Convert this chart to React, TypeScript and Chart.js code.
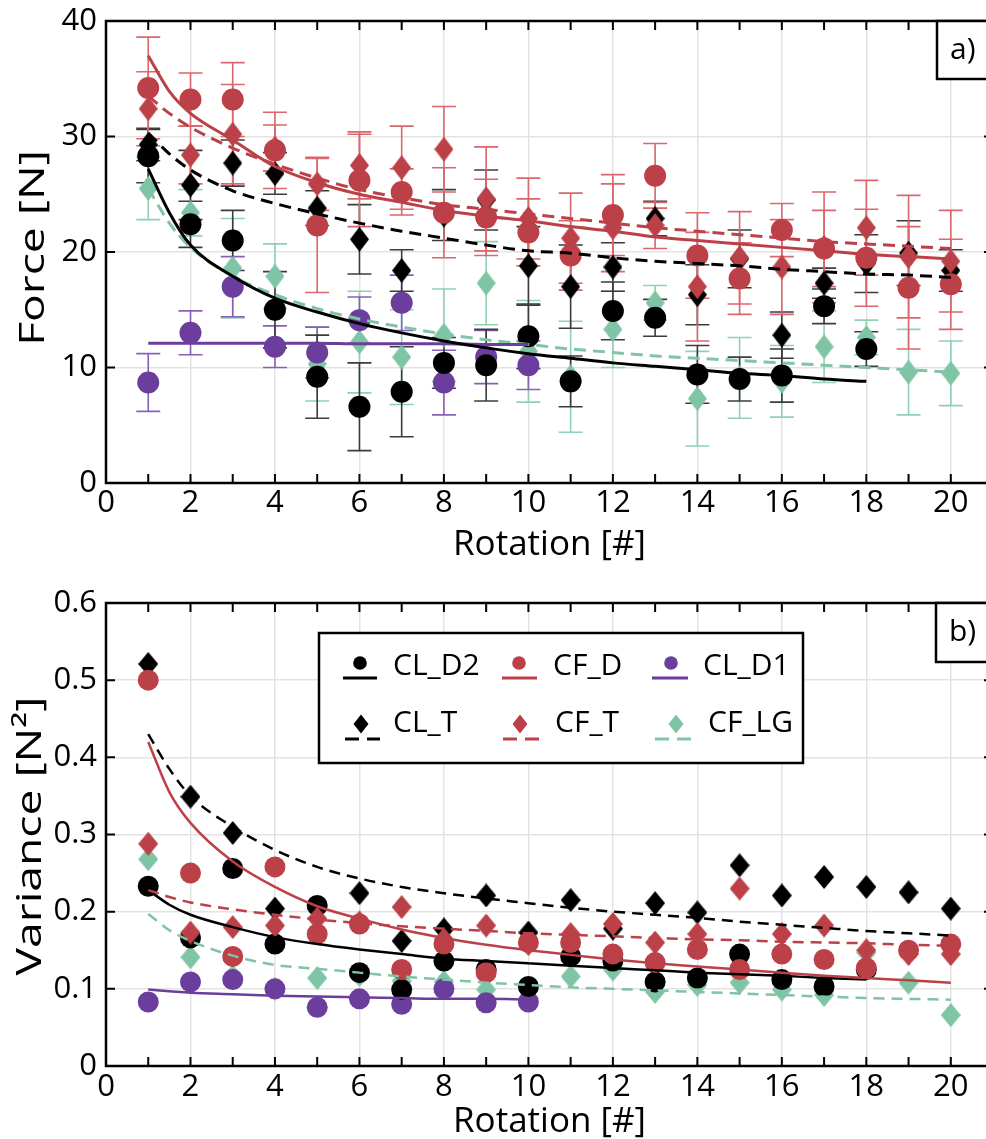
import React, { useEffect, useRef } from "react";
import { Chart, registerables } from "chart.js";

Chart.register(...registerables);

const FONT = '"Open Sans", "Noto Sans", "DejaVu Sans", sans-serif';

// ---------- categories ----------
const rot20 = [1, 2, 3, 4, 5, 6, 7, 8, 9, 10, 11, 12, 13, 14, 15, 16, 17, 18, 19, 20];
const rot18 = [1, 2, 3, 4, 5, 6, 7, 8, 9, 10, 11, 12, 13, 14, 15, 16, 17, 18];
const rot10 = [1, 2, 3, 4, 5, 6, 7, 8, 9, 10];
const fitX20 = [1, 1.5, 2, 3, 4, 5, 6, 7, 8, 9, 10, 11, 12, 13, 14, 15, 16, 17, 18, 19, 20];
const fitX18 = [1, 1.5, 2, 3, 4, 5, 6, 7, 8, 9, 10, 11, 12, 13, 14, 15, 16, 17, 18];
const fitX10 = [1, 1.5, 2, 3, 4, 5, 6, 7, 8, 9, 10];

// ---------- panel a) Force [N] ----------
const forceCLD2 = [28.3, 22.4, 21.0, 15.0, 9.2, 6.6, 7.9, 10.4, 10.2, 12.7, 8.8, 14.9, 14.3, 9.4, 9.0, 9.3, 15.3, 11.6];
const forceCLD2Err = [2.3, 2.0, 2.6, 3.3, 3.6, 3.8, 3.9, 2.2, 3.1, 2.8, 2.2, 2.5, 1.6, 2.5, 1.9, 2.3, 1.5, 1.5];
const forceCLT = [29.3, 25.8, 27.7, 26.8, 23.8, 21.1, 18.4, 23.2, 24.5, 18.8, 17.0, 18.7, 22.9, 16.3, 19.4, 12.8, 17.3, 19.0, 19.9, 18.4];
const forceCLTErr = [1.4, 3.0, 2.0, 1.8, 1.5, 3.0, 1.8, 2.2, 2.6, 3.4, 3.6, 2.1, 1.5, 2.6, 2.5, 2.0, 1.3, 2.5, 2.8, 1.8];
const forceCFD = [34.2, 33.2, 33.2, 28.8, 22.3, 26.2, 25.2, 23.4, 23.0, 21.7, 19.7, 23.2, 26.6, 19.7, 17.7, 21.9, 20.3, 19.5, 16.9, 17.2];
const forceCFDErr = [4.4, 2.3, 3.2, 3.3, 5.8, 4.0, 2.0, 3.9, 3.3, 2.9, 3.0, 3.5, 2.8, 3.7, 3.1, 2.3, 3.3, 4.2, 5.3, 3.9];
const forceCFT = [32.4, 28.4, 30.2, 29.0, 25.9, 27.5, 27.3, 28.9, 24.6, 22.9, 21.2, 22.1, 22.3, 17.0, 19.5, 18.7, 20.4, 22.1, 19.6, 19.2];
const forceCFTErr = [3.2, 2.5, 4.3, 2.0, 2.3, 2.9, 3.6, 3.7, 4.5, 3.5, 3.9, 3.8, 2.0, 4.7, 4.0, 4.1, 4.8, 4.1, 5.3, 4.4];
const forceCLD1 = [8.7, 13.0, 17.0, 11.8, 11.3, 14.1, 15.6, 8.7, 10.9, 10.2];
const forceCLD1Err = [2.5, 1.9, 2.6, 1.8, 2.2, 2.0, 2.4, 2.8, 2.3, 2.1];
const forceCFLG = [25.5, 23.4, 18.6, 17.9, 10.3, 12.2, 10.9, 12.8, 17.3, 11.4, 9.2, 13.3, 15.6, 7.3, 9.1, 8.8, 11.8, 12.6, 9.6, 9.5];
const forceCFLGErr = [2.7, 2.0, 4.3, 2.8, 3.2, 4.4, 4.1, 4.0, 3.6, 4.4, 4.8, 3.3, 1.5, 4.1, 3.5, 3.1, 3.1, 1.5, 3.7, 2.8];

const fitForceCLD2 = [27.2, 23.4, 20.6, 17.9, 16.0, 14.8, 13.8, 13.0, 12.3, 11.7, 11.2, 10.8, 10.4, 10.1, 9.8, 9.5, 9.3, 9.0, 8.8];
const fitForceCLT = [30.3, 28.5, 27.1, 25.3, 24.2, 23.3, 22.5, 21.8, 21.2, 20.6, 20.1, 19.9, 19.5, 19.2, 19.0, 18.8, 18.5, 18.3, 18.1, 18.0, 17.8];
const fitForceCFD = [37.0, 33.9, 32.0, 29.7, 27.4, 26.0, 25.0, 24.3, 23.6, 23.1, 22.7, 22.2, 21.8, 21.3, 21.0, 20.7, 20.4, 20.1, 19.8, 19.6, 19.4];
const fitForceCFT = [33.5, 32.0, 30.8, 29.0, 27.6, 26.4, 25.4, 24.7, 24.1, 23.7, 23.3, 22.9, 22.5, 22.1, 21.8, 21.5, 21.2, 20.9, 20.7, 20.5, 20.3];
const fitForceCLD1 = [12.1, 12.1, 12.1, 12.1, 12.1, 12.1, 12.05, 12.05, 12.05, 12.0, 12.0];
const fitForceCFLG = [25.5, 22.5, 20.4, 17.9, 16.3, 15.1, 14.2, 13.5, 12.9, 12.4, 12.0, 11.6, 11.3, 11.0, 10.8, 10.6, 10.4, 10.2, 10.0, 9.8, 9.6];

// ---------- panel b) Variance [N²] ----------
const varCLD2 = [0.233, 0.166, 0.256, 0.158, 0.208, 0.121, 0.099, 0.136, 0.125, 0.103, 0.142, 0.136, 0.109, 0.114, 0.145, 0.112, 0.103, 0.125];
const varCLT = [0.521, 0.349, 0.302, 0.204, 0.205, 0.224, 0.162, 0.177, 0.221, 0.173, 0.215, 0.178, 0.211, 0.199, 0.26, 0.221, 0.245, 0.232, 0.225, 0.204];
const varCFD = [0.5, 0.25, 0.142, 0.258, 0.171, 0.184, 0.125, 0.158, 0.121, 0.16, 0.16, 0.145, 0.134, 0.151, 0.125, 0.145, 0.138, 0.127, 0.15, 0.158];
const varCFT = [0.288, 0.173, 0.18, 0.182, 0.191, 0.186, 0.206, 0.164, 0.182, 0.158, 0.171, 0.184, 0.16, 0.171, 0.23, 0.171, 0.182, 0.15, 0.145, 0.145];
const varCLD1 = [0.083, 0.109, 0.112, 0.1, 0.076, 0.087, 0.08, 0.1, 0.082, 0.083];
const varCFLG = [0.268, 0.141, 0.116, 0.1, 0.114, 0.118, 0.11, 0.109, 0.099, 0.087, 0.116, 0.125, 0.096, 0.105, 0.108, 0.099, 0.092, 0.147, 0.108, 0.066];

const fitVarCLD2 = [0.228, 0.209, 0.196, 0.18, 0.167, 0.158, 0.151, 0.145, 0.139, 0.136, 0.133, 0.13, 0.127, 0.124, 0.121, 0.119, 0.117, 0.114, 0.112];
const fitVarCLT = [0.43, 0.385, 0.35, 0.31, 0.28, 0.258, 0.243, 0.232, 0.224, 0.217, 0.211, 0.205, 0.2, 0.196, 0.192, 0.187, 0.183, 0.179, 0.175, 0.172, 0.169];
const fitVarCFD = [0.42, 0.355, 0.315, 0.265, 0.232, 0.207, 0.191, 0.177, 0.166, 0.157, 0.15, 0.144, 0.138, 0.133, 0.129, 0.125, 0.121, 0.117, 0.114, 0.111, 0.108];
const fitVarCFT = [0.228, 0.219, 0.212, 0.203, 0.196, 0.19, 0.185, 0.181, 0.178, 0.175, 0.172, 0.17, 0.168, 0.166, 0.164, 0.163, 0.161, 0.16, 0.159, 0.157, 0.156];
const fitVarCLD1 = [0.099, 0.097, 0.095, 0.093, 0.091, 0.09, 0.089, 0.088, 0.087, 0.087, 0.086];
const fitVarCFLG = [0.197, 0.176, 0.162, 0.143, 0.131, 0.126, 0.121, 0.116, 0.112, 0.108, 0.105, 0.102, 0.1, 0.098, 0.096, 0.094, 0.092, 0.09, 0.088, 0.087, 0.086];

// ---------- ticks / labels ----------
const forceTicks = [0, 10, 20, 30, 40];
const varTicks = [0, 0.1, 0.2, 0.3, 0.4, 0.5, 0.6];
const rotationTicks = [0, 2, 4, 6, 8, 10, 12, 14, 16, 18, 20];
const legendNames = ["CL_D2", "CF_D", "CL_D1", "CL_T", "CF_T", "CF_LG"];

// ---------- styles ----------
const RED = "#bc4048";
const BLACK = "#000000";
const PURPLE = "#6b3d9c";
const TEAL = "#7fc4a4";
const RED_ERR = "#d9676c";
const BLACK_ERR = "#3c3c3c";
const PURPLE_ERR = "#8a5fba";
const TEAL_ERR = "#8fd1b4";

function makeDiamond(color: string, w: number, h: number) {
  const c = document.createElement("canvas");
  c.width = w;
  c.height = h;
  const ctx = c.getContext("2d")!;
  ctx.fillStyle = color;
  ctx.beginPath();
  ctx.moveTo(w / 2, 0);
  ctx.lineTo(w, h / 2);
  ctx.lineTo(w / 2, h);
  ctx.lineTo(0, h / 2);
  ctx.closePath();
  ctx.fill();
  return c;
}

type MarkerSpec = { xs: number[]; ys: number[]; err?: number[]; color: string; errColor?: string; shape: "circle" | "diamond" };
type LineSpec = { xs: number[]; ys: number[]; color: string; dashed: boolean };

type PanelSpec = {
  width: number;
  height: number;
  areaTop: number;
  areaBottom: number;
  yMax: number;
  yTicks: number[];
  yFmt: (v: number) => string;
  yTitle: string;
  yTitleX: number;
  yTitleY: number;
  xTickPad: number;
  xTitlePad: number;
  tag: string;
  tagBox: { x: number; y: number; w: number; h: number };
  markers: MarkerSpec[];
  lines: LineSpec[];
  circleR: number;
  diamondW: number;
  diamondH: number;
  lineW: number;
  dash: number[];
  legend: boolean;
  canvasTop: number;
};

function pts(xs: number[], ys: number[]) {
  return xs.map((x, i) => ({ x, y: ys[i] }));
}

function buildConfig(spec: PanelSpec): any {
  const X_LEFT = 106;
  const datasets: any[] = [];
  spec.markers.forEach((m, i) => {
    const base: any = {
      type: "scatter",
      data: pts(m.xs, m.ys),
      backgroundColor: m.color,
      borderColor: m.color,
      pointBorderWidth: 0,
      order: 100 - i,
      showLine: false,
    };
    if (m.shape === "circle") {
      base.pointStyle = "circle";
      base.pointRadius = spec.circleR;
    } else {
      base.pointStyle = makeDiamond(m.color, spec.diamondW, spec.diamondH);
      base.pointRadius = spec.diamondH / 2;
    }
    datasets.push(base);
  });
  spec.lines.forEach((l, i) => {
    datasets.push({
      type: "line",
      data: pts(l.xs, l.ys),
      borderColor: l.color,
      borderWidth: spec.lineW,
      borderDash: l.dashed ? spec.dash : [],
      pointRadius: 0,
      fill: false,
      cubicInterpolationMode: "monotone",
      order: 20 - i,
    });
  });

  const tickFont = { family: FONT, size: 31 };
  const deco = {
    id: "deco",
    beforeDatasetsDraw(chart: any) {
      const { ctx, scales } = chart;
      const xs = scales.x, ys = scales.y;
      ctx.save();
      ctx.lineWidth = 1.6;
      spec.markers.forEach((m) => {
        if (!m.err) return;
        ctx.strokeStyle = m.errColor;
        m.xs.forEach((xv, i) => {
          const px = xs.getPixelForValue(xv);
          const p1 = ys.getPixelForValue(m.ys[i] + m.err![i]);
          const p2 = ys.getPixelForValue(m.ys[i] - m.err![i]);
          ctx.beginPath();
          ctx.moveTo(px, p1);
          ctx.lineTo(px, p2);
          ctx.moveTo(px - 12, p1);
          ctx.lineTo(px + 12, p1);
          ctx.moveTo(px - 12, p2);
          ctx.lineTo(px + 12, p2);
          ctx.stroke();
        });
      });
      ctx.restore();
    },
    afterDraw(chart: any) {
      const { ctx, chartArea: a, scales } = chart;
      const xs = scales.x, ys = scales.y;
      ctx.save();
      // frame
      ctx.strokeStyle = "#000";
      ctx.lineWidth = 2.5;
      ctx.strokeRect(a.left, a.top, a.right - a.left, a.bottom - a.top);
      // inward ticks
      ctx.lineWidth = 2;
      ctx.beginPath();
      for (let v = 1; v <= 21; v++) {
        const px = xs.getPixelForValue(v);
        if (px > a.right + 0.5) break;
        ctx.moveTo(px, a.top);
        ctx.lineTo(px, a.top + 9);
        ctx.moveTo(px, a.bottom);
        ctx.lineTo(px, a.bottom - 9);
      }
      spec.yTicks.forEach((v) => {
        const py = ys.getPixelForValue(v);
        ctx.moveTo(a.left, py);
        ctx.lineTo(a.left + 9, py);
        ctx.moveTo(a.right, py);
        ctx.lineTo(a.right - 9, py);
      });
      ctx.stroke();
      // tag box
      const t = spec.tagBox;
      ctx.fillStyle = "#fff";
      ctx.fillRect(t.x, t.y, t.w, t.h);
      ctx.lineWidth = 2.5;
      ctx.strokeRect(t.x, t.y, t.w, t.h);
      ctx.fillStyle = "#000";
      ctx.font = `30px ${FONT}`;
      ctx.textAlign = "left";
      ctx.textBaseline = "middle";
      ctx.fillText(spec.tag, t.x + 13, t.y + t.h / 2);
      // y title (stretched along its length as in the original)
      ctx.save();
      ctx.translate(spec.yTitleX, spec.yTitleY);
      ctx.rotate(-Math.PI / 2);
      ctx.scale(1.32, 1);
      ctx.font = `35px ${FONT}`;
      ctx.textAlign = "center";
      ctx.textBaseline = "middle";
      ctx.fillText(spec.yTitle, 0, 0);
      ctx.restore();
      // legend
      if (spec.legend) {
        const off = spec.canvasTop;
        ctx.fillStyle = "#fff";
        ctx.fillRect(319, 633 - off, 484, 130);
        ctx.lineWidth = 2.5;
        ctx.strokeStyle = "#000";
        ctx.strokeRect(319, 633 - off, 484, 130);
        const cols = [
          { mx: 360, lx0: 343, lx1: 377, tx: 393 },
          { mx: 519, lx0: 502, lx1: 537, tx: 553 },
          { mx: 671, lx0: 652, lx1: 688, tx: 703 },
        ];
        const cols2 = [
          { mx: 361, lx0: 345, lx1: 380, tx: 393 },
          { mx: 520, lx0: 503, lx1: 539, tx: 555 },
          { mx: 676, lx0: 655, lx1: 696, tx: 708 },
        ];
        const colors = [BLACK, RED, PURPLE, BLACK, RED, TEAL];
        legendNames.forEach((name, i) => {
          const row = i < 3 ? 0 : 1;
          const c = row === 0 ? cols[i] : cols2[i - 3];
          const my = (row === 0 ? 663 : 724) - off;
          const ly = (row === 0 ? 678 : 739) - off;
          const ty = (row === 0 ? 666 : 723) - off;
          ctx.strokeStyle = colors[i];
          ctx.lineWidth = 3;
          ctx.setLineDash(row === 0 ? [] : [14, 8]);
          ctx.beginPath();
          ctx.moveTo(c.lx0, ly);
          ctx.lineTo(c.lx1, ly);
          ctx.stroke();
          ctx.setLineDash([]);
          ctx.fillStyle = colors[i];
          ctx.beginPath();
          if (row === 0) {
            ctx.arc(c.mx, my, 6.8, 0, Math.PI * 2);
          } else {
            ctx.moveTo(c.mx, my - 9.5);
            ctx.lineTo(c.mx + 7.5, my);
            ctx.lineTo(c.mx, my + 9.5);
            ctx.lineTo(c.mx - 7.5, my);
            ctx.closePath();
          }
          ctx.fill();
          ctx.fillStyle = "#000";
          ctx.font = `30px ${FONT}`;
          ctx.textAlign = "left";
          ctx.textBaseline = "middle";
          ctx.fillText(name, c.tx, ty);
        });
      }
      ctx.restore();
    },
  };

  const xMax = (spec.width - X_LEFT) / 42.24;

  return {
    type: "scatter",
    data: { datasets },
    options: {
      animation: false,
      responsive: false,
      devicePixelRatio: 1,
      events: [],
      layout: { autoPadding: false, padding: { top: spec.areaTop, left: 0, right: 0, bottom: 0 } },
      plugins: { legend: { display: false }, tooltip: { enabled: false } },
      scales: {
        x: {
          type: "linear",
          min: 0,
          max: xMax,
          afterFit: (s: any) => {
            s.height = spec.height - spec.areaBottom;
            s.paddingLeft = 0;
            s.paddingRight = 0;
          },
          afterBuildTicks: (s: any) => {
            s.ticks = rotationTicks.map((v) => ({ value: v }));
          },
          ticks: {
            font: tickFont,
            color: "#000",
            padding: spec.xTickPad,
            maxRotation: 0,
            autoSkip: false,
            callback: (v: any) => String(v),
          },
          grid: { color: "#e3e3e3", lineWidth: 1.5, drawTicks: false },
          border: { display: false },
          title: {
            display: true,
            text: "Rotation [#]",
            color: "#000",
            font: { family: FONT, size: 35 },
            padding: { top: 0, bottom: spec.xTitlePad },
          },
        },
        y: {
          type: "linear",
          min: 0,
          max: spec.yMax,
          afterFit: (s: any) => {
            s.width = X_LEFT;
            s.paddingTop = 0;
            s.paddingBottom = 0;
          },
          afterBuildTicks: (s: any) => {
            s.ticks = spec.yTicks.map((v) => ({ value: v }));
          },
          ticks: {
            font: tickFont,
            color: "#000",
            padding: 9,
            callback: (v: any) => spec.yFmt(Number(v)),
          },
          grid: { color: "#e3e3e3", lineWidth: 1.5, drawTicks: false },
          border: { display: false },
        },
      },
    },
    plugins: [deco],
  };
}

const specA: PanelSpec = {
  width: 993,
  height: 575,
  areaTop: 21,
  areaBottom: 483,
  yMax: 40,
  yTicks: forceTicks,
  yFmt: (v) => String(v),
  yTitle: "Force [N]",
  yTitleX: 34,
  yTitleY: 248,
  xTickPad: 2,
  xTitlePad: 9,
  tag: "a)",
  tagBox: { x: 937, y: 21, w: 60, h: 58 },
  markers: [
    { xs: rot20, ys: forceCFLG, err: forceCFLGErr, color: TEAL, errColor: TEAL_ERR, shape: "diamond" },
    { xs: rot10, ys: forceCLD1, err: forceCLD1Err, color: PURPLE, errColor: PURPLE_ERR, shape: "circle" },
    { xs: rot18, ys: forceCLD2, err: forceCLD2Err, color: BLACK, errColor: BLACK_ERR, shape: "circle" },
    { xs: rot20, ys: forceCLT, err: forceCLTErr, color: BLACK, errColor: BLACK_ERR, shape: "diamond" },
    { xs: rot20, ys: forceCFD, err: forceCFDErr, color: RED, errColor: RED_ERR, shape: "circle" },
    { xs: rot20, ys: forceCFT, err: forceCFTErr, color: RED, errColor: RED_ERR, shape: "diamond" },
  ],
  lines: [
    { xs: fitX20, ys: fitForceCFLG, color: TEAL, dashed: true },
    { xs: fitX10, ys: fitForceCLD1, color: PURPLE, dashed: false },
    { xs: fitX18, ys: fitForceCLD2, color: BLACK, dashed: false },
    { xs: fitX20, ys: fitForceCLT, color: BLACK, dashed: true },
    { xs: fitX20, ys: fitForceCFD, color: RED, dashed: false },
    { xs: fitX20, ys: fitForceCFT, color: RED, dashed: true },
  ],
  circleR: 11,
  diamondW: 19,
  diamondH: 25,
  lineW: 3,
  dash: [12, 7],
  legend: false,
  canvasTop: 0,
};

const specB: PanelSpec = {
  width: 993,
  height: 564,
  areaTop: 28,
  areaBottom: 491,
  yMax: 0.6,
  yTicks: varTicks,
  yFmt: (v) => (v === 0 ? "0" : v.toFixed(1)),
  yTitle: "Variance [N²]",
  yTitleX: 31,
  yTitleY: 261,
  xTickPad: 3,
  xTitlePad: -4,
  tag: "b)",
  tagBox: { x: 936, y: 28, w: 60, h: 59 },
  markers: [
    { xs: rot20, ys: varCFLG, color: TEAL, shape: "diamond" },
    { xs: rot10, ys: varCLD1, color: PURPLE, shape: "circle" },
    { xs: rot18, ys: varCLD2, color: BLACK, shape: "circle" },
    { xs: rot20, ys: varCLT, color: BLACK, shape: "diamond" },
    { xs: rot20, ys: varCFD, color: RED, shape: "circle" },
    { xs: rot20, ys: varCFT, color: RED, shape: "diamond" },
  ],
  lines: [
    { xs: fitX20, ys: fitVarCFLG, color: TEAL, dashed: true },
    { xs: fitX10, ys: fitVarCLD1, color: PURPLE, dashed: false },
    { xs: fitX18, ys: fitVarCLD2, color: BLACK, dashed: false },
    { xs: fitX20, ys: fitVarCLT, color: BLACK, dashed: true },
    { xs: fitX20, ys: fitVarCFD, color: RED, dashed: false },
    { xs: fitX20, ys: fitVarCFT, color: RED, dashed: true },
  ],
  circleR: 10.5,
  diamondW: 20,
  diamondH: 24,
  lineW: 2.5,
  dash: [11, 7],
  legend: true,
  canvasTop: 575,
};

export default function App() {
  const refA = useRef<HTMLCanvasElement>(null);
  const refB = useRef<HTMLCanvasElement>(null);
  useEffect(() => {
    const a = new Chart(refA.current!, buildConfig(specA));
    const b = new Chart(refB.current!, buildConfig(specB));
    return () => {
      a.destroy();
      b.destroy();
    };
  }, []);
  return (
    <div style={{ position: "absolute", left: 0, top: 0, width: 986, height: 1139, overflow: "hidden", background: "#fff" }}>
      <canvas ref={refA} width={specA.width} height={specA.height} style={{ position: "absolute", left: 0, top: 0 }} />
      <canvas ref={refB} width={specB.width} height={specB.height} style={{ position: "absolute", left: 0, top: specB.canvasTop }} />
    </div>
  );
}
